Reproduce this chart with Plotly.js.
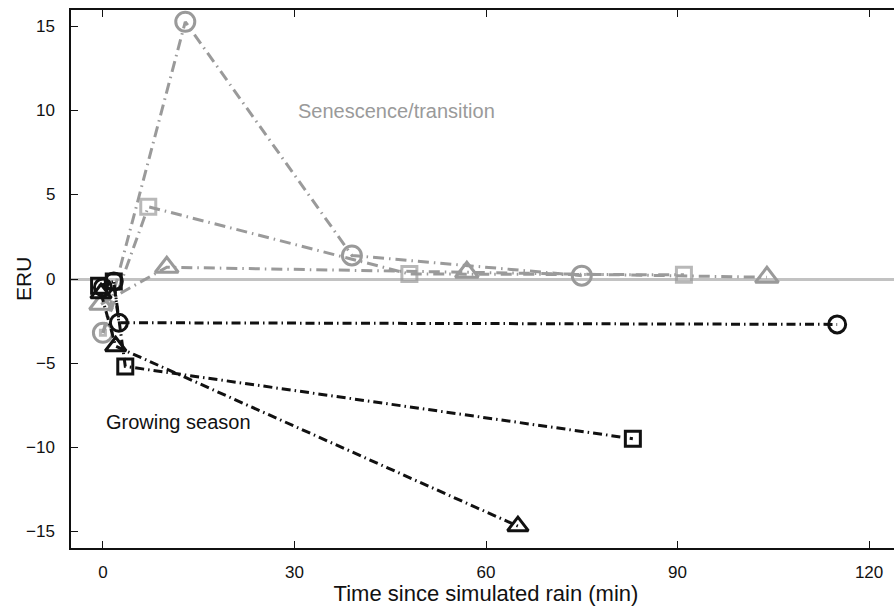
<!DOCTYPE html>
<html>
<head>
<meta charset="utf-8">
<script src="https://cdn.plot.ly/plotly-3.0.1.min.js"></script>
<style>
html, body { margin: 0; padding: 0; overflow: hidden; background: #fff; }
#chart { width: 902px; height: 606px; }
</style>
</head>
<body>
<div id="chart"></div>
<script>
// Senescence/transition (gray)
var senCircleX = [0, 12.9, 39, 75];
var senCircleY = [-3.2, 15.3, 1.4, 0.2];
var senSquareX = [0, 7.1, 48, 91];
var senSquareY = [-3.2, 4.3, 0.3, 0.25];
var senTriX = [-0.3, 10, 57, 104];
var senTriY = [-1.5, 0.7, 0.4, 0.1];

// Growing season (black)
var grCircleX = [0, 1.7, 2.5, 115];
var grCircleY = [-0.5, -0.15, -2.6, -2.7];
var grSquareX = [-0.6, 1.7, 3.5, 83];
var grSquareY = [-0.4, -0.15, -5.2, -9.5];
var grTriX = [-0.3, 2, 65];
var grTriY = [-0.85, -4.0, -14.7];

var xTicks = [0, 30, 60, 90, 120];
var yTicks = [-15, -10, -5, 0, 5, 10, 15];

var GRAY = '#9a9a9a';
var BLACK = '#111111';
var grayDash = '11px,5px,1.5px,5px';
var blackDash = '9px,4px,1.5px,4px';

function tr(x, y, color, dash, symbol, size, lw) {
  return {
    x: x, y: y, type: 'scatter', mode: 'lines+markers',
    line: {color: color, width: 3, dash: dash},
    marker: {symbol: symbol, size: size, color: color,
             line: {color: color, width: lw}},
    hoverinfo: 'none', showlegend: false, cliponaxis: false
  };
}

var traces = [
  tr(senCircleX, senCircleY, GRAY, grayDash, 'circle-open', 19, 3),
  tr(senSquareX, senSquareY, GRAY, grayDash, 'square-open', [5, 15, 15, 15], 3),
  tr(senTriX, senTriY, GRAY, grayDash, 'triangle-up-open', 20, 3),
  tr(grCircleX, grCircleY, BLACK, blackDash, 'circle-open', 17, 3),
  tr(grSquareX, grSquareY, BLACK, blackDash, 'square-open', 15, 3),
  tr(grTriX, grTriY, BLACK, blackDash, 'triangle-up-open', 18, 3)
];

var FF = 'Liberation Sans, Arial, sans-serif';
var tickFont = {family: FF, size: 17, color: '#111'};
var titleFont = {family: FF, size: 22, color: '#111'};

var annotations = [
  {x: 0, y: 0.5, xref: 'paper', yref: 'paper', xshift: -48,
   xanchor: 'center', yanchor: 'middle', textangle: -90,
   text: 'ERU', showarrow: false, font: {family: FF, size: 21, color: '#111'}},
  {x: 30.3, y: 10, xref: 'x', yref: 'y', xanchor: 'left', yanchor: 'middle',
   text: 'Senescence/transition', showarrow: false,
   font: {family: FF, size: 20, color: GRAY}},
  {x: 0.2, y: -8.5, xref: 'x', yref: 'y', xanchor: 'left', yanchor: 'middle',
   text: 'Growing season', showarrow: false,
   font: {family: FF, size: 20, color: '#111'}}
];
// y tick labels, placed by the y axis scale
yTicks.forEach(function (v) {
  annotations.push({
    x: 0, y: v, xref: 'paper', yref: 'y', xshift: -14,
    xanchor: 'right', yanchor: 'middle', showarrow: false,
    text: (v < 0 ? '\u2212' + Math.abs(v) : String(v)),
    font: tickFont
  });
});

var layout = {
  width: 902, height: 606,
  margin: {l: 71, r: 1, t: 10, b: 58},
  paper_bgcolor: '#fff', plot_bgcolor: '#fff',
  font: tickFont,
  xaxis: {
    range: [-5, 125], tickvals: xTicks, ticktext: xTicks.map(String),
    ticks: 'inside', ticklen: 7, tickwidth: 1, tickcolor: '#111',
    showline: true, linecolor: '#111', linewidth: 2, mirror: 'ticks',
    showgrid: false, zeroline: false, automargin: false,
    tickfont: tickFont, ticklabelstandoff: 8,
    title: {text: 'Time since simulated rain (min)', font: titleFont, standoff: 2}
  },
  yaxis: {
    range: [-16, 16], tickvals: yTicks, showticklabels: false,
    ticks: 'inside', ticklen: 7, tickwidth: 1, tickcolor: '#111',
    showline: true, linecolor: '#111', linewidth: 2, mirror: 'ticks',
    showgrid: false, zeroline: true, zerolinecolor: '#c2c2c2', zerolinewidth: 3,
    automargin: false
  },
  annotations: annotations
};

Plotly.newPlot('chart', traces, layout, {staticPlot: true, displayModeBar: false});
</script>
</body>
</html>
